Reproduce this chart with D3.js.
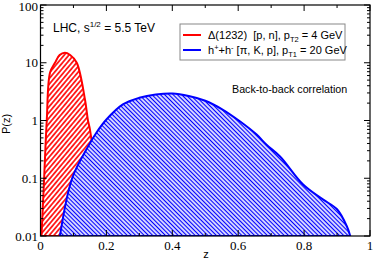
<!DOCTYPE html>
<html>
<head>
<meta charset="utf-8">
<script src="https://cdn.jsdelivr.net/npm/d3@7"></script>
<style>
  body { margin: 0; background: #fff; }
  svg { display: block; }
  .tick-label { font-family: "Liberation Serif", "Times New Roman", serif; font-size: 13px; }
  .sans { font-family: "Liberation Sans", Arial, sans-serif; }
</style>
</head>
<body>
<svg id="chart"></svg>
<script>
// values
var xTicks = [0, 0.2, 0.4, 0.6, 0.8, 1];
var xTickLabels = ["0", "0.2", "0.4", "0.6", "0.8", "1"];
var yTicks = [0.01, 0.1, 1, 10, 100];
var yTickLabels = ["0.01", "0.1", "1", "10", "100"];

// Delta(1232) [p, n], pT2 = 4 GeV
var deltaZ = [0.003, 0.011, 0.019, 0.029, 0.044, 0.058, 0.074, 0.09, 0.11, 0.135, 0.144, 0.15, 0.165, 0.18];
var deltaP = [0.01, 0.1, 1, 6.8, 10, 13.6, 14.9, 13.6, 10, 2.3, 1, 0.7, 0.14, 0.01];

// h+ + h- [pi, K, p], pT1 = 20 GeV
var hadZ = [0.059, 0.096, 0.145, 0.17, 0.2, 0.25, 0.3, 0.35, 0.4, 0.45, 0.5, 0.55, 0.605, 0.656, 0.686, 0.727, 0.797, 0.857, 0.9, 0.93, 0.94];
var hadP = [0.01, 0.1, 0.36, 0.62, 1.04, 1.9, 2.47, 2.82, 2.94, 2.66, 2.2, 1.58, 0.97, 0.57, 0.38, 0.238, 0.078, 0.043, 0.029, 0.0146, 0.01];

var width = 374,
    height = 259,
    pLeft = 40.5, pRight = 370, pTop = 5, pBottom = 236;

var svg = d3.select("#chart")
    .attr("width", width)
    .attr("height", height);

var x = d3.scaleLinear().domain([0, 1]).range([pLeft, pRight]);
var y = d3.scaleLog().domain([0.01, 100]).range([pBottom, pTop]);

var defs = svg.append("defs");

// hatch patterns
function hatch(id, color, angle, period, lw) {
  var p = defs.append("pattern")
      .attr("id", id)
      .attr("patternUnits", "userSpaceOnUse")
      .attr("width", period)
      .attr("height", period)
      .attr("patternTransform", "rotate(" + angle + ")");
  p.append("rect").attr("width", period).attr("height", period).attr("fill", "#fff");
  p.append("line")
      .attr("x1", period / 2).attr("y1", 0)
      .attr("x2", period / 2).attr("y2", period)
      .attr("stroke", color)
      .attr("stroke-width", lw);
}
hatch("redHatch", "#ff0000", 40, 3.6, 1.6);
hatch("blueHatch", "#0000ff", -45, 3.0, 1.35);

defs.append("clipPath").attr("id", "plotClip")
  .append("rect")
    .attr("x", pLeft).attr("y", pTop)
    .attr("width", pRight - pLeft).attr("height", pBottom - pTop);

var line = d3.line()
    .x(function(d) { return x(d[0]); })
    .y(function(d) { return y(d[1]); })
    .curve(d3.curveCatmullRom.alpha(0.5));

var plot = svg.append("g").attr("clip-path", "url(#plotClip)");

function drawCurve(zs, ps, fill, color) {
  var pts = zs.map(function(z, i) { return [z, ps[i]]; });
  plot.append("path")
      .attr("d", line(pts) + "Z")
      .attr("fill", "url(#" + fill + ")")
      .attr("stroke", color)
      .attr("stroke-width", 2)
      .attr("stroke-linejoin", "round");
}
drawCurve(deltaZ, deltaP, "redHatch", "#ff0000");
drawCurve(hadZ, hadP, "blueHatch", "#0000ff");

// frame
svg.append("rect")
    .attr("x", pLeft).attr("y", pTop)
    .attr("width", pRight - pLeft).attr("height", pBottom - pTop)
    .attr("fill", "none")
    .attr("stroke", "#000")
    .attr("stroke-width", 1.2);

// ticks (inward, all four sides)
var axes = svg.append("g").attr("stroke", "#000").attr("stroke-width", 1);
var xMinor = d3.range(0, 1.0001, 0.1);
xMinor.forEach(function(v) {
  var major = Math.abs(v * 5 - Math.round(v * 5)) < 1e-6;
  var len = major ? 6 : 3;
  axes.append("line").attr("x1", x(v)).attr("x2", x(v)).attr("y1", pBottom).attr("y2", pBottom - len);
  axes.append("line").attr("x1", x(v)).attr("x2", x(v)).attr("y1", pTop).attr("y2", pTop + len);
});
yTicks.forEach(function(dec, j) {
  axes.append("line").attr("x1", pLeft).attr("x2", pLeft + 6).attr("y1", y(dec)).attr("y2", y(dec));
  axes.append("line").attr("x1", pRight).attr("x2", pRight - 6).attr("y1", y(dec)).attr("y2", y(dec));
  if (j < yTicks.length - 1) {
    for (var m = 2; m <= 9; m++) {
      var v = dec * m;
      axes.append("line").attr("x1", pLeft).attr("x2", pLeft + 3).attr("y1", y(v)).attr("y2", y(v));
      axes.append("line").attr("x1", pRight).attr("x2", pRight - 3).attr("y1", y(v)).attr("y2", y(v));
    }
  }
});

// tick labels
svg.selectAll(".xl")
  .data(xTicks)
  .enter().append("text")
    .attr("class", "tick-label")
    .attr("x", function(d) { return x(d); })
    .attr("y", 250)
    .attr("text-anchor", "middle")
    .text(function(d, i) { return xTickLabels[i]; });

svg.selectAll(".yl")
  .data(yTicks)
  .enter().append("text")
    .attr("class", "tick-label")
    .attr("x", 38)
    .attr("y", function(d) { return Math.max(y(d) + 4.5, 10.5); })
    .attr("text-anchor", "end")
    .text(function(d, i) { return yTickLabels[i]; });

// axis titles
svg.append("text")
    .attr("class", "sans")
    .attr("font-size", 11)
    .attr("transform", "translate(10,124) rotate(-90)")
    .attr("text-anchor", "middle")
    .text("P(z)");

svg.append("text")
    .attr("class", "sans")
    .attr("font-size", 11)
    .attr("x", 206)
    .attr("y", 258)
    .attr("text-anchor", "middle")
    .text("z");

// annotation
var lhc = svg.append("text")
    .attr("class", "sans")
    .attr("font-size", 12)
    .attr("x", 53)
    .attr("y", 31.5);
lhc.append("tspan").text("LHC, s");
lhc.append("tspan").attr("font-size", 8).attr("dy", -5).text("1/2");
lhc.append("tspan").attr("dy", 5).text("\u00a0= 5.5 TeV");

svg.append("text")
    .attr("class", "sans")
    .attr("font-size", 10.7)
    .attr("x", 232)
    .attr("y", 93)
    .text("Back-to-back correlation");

// legend
var leg = svg.append("g");
leg.append("rect")
    .attr("x", 180).attr("y", 24)
    .attr("width", 165).attr("height", 36)
    .attr("fill", "#fff")
    .attr("stroke", "#888")
    .attr("stroke-width", 1);

leg.append("line").attr("x1", 183).attr("x2", 201).attr("y1", 35).attr("y2", 35)
    .attr("stroke", "#ff0000").attr("stroke-width", 2);
leg.append("line").attr("x1", 183).attr("x2", 201).attr("y1", 50).attr("y2", 50)
    .attr("stroke", "#0000ff").attr("stroke-width", 2);

var t1 = leg.append("text").attr("class", "sans").attr("font-size", 11).attr("x", 208).attr("y", 39);
t1.append("tspan").text("\u0394(1232)\u00a0\u00a0[p, n], p");
t1.append("tspan").attr("font-size", 7.5).attr("dy", 3).text("T2");
t1.append("tspan").attr("dy", -3).text("\u00a0= 4 GeV");

var t2 = leg.append("text").attr("class", "sans").attr("font-size", 11).attr("x", 208).attr("y", 54);
t2.append("tspan").text("h");
t2.append("tspan").attr("font-size", 7.5).attr("dy", -4).text("+");
t2.append("tspan").attr("dy", 4).text("+h");
t2.append("tspan").attr("font-size", 7.5).attr("dy", -4).text("-");
t2.append("tspan").attr("dy", 4).text("\u00a0[\u03c0, K, p], p");
t2.append("tspan").attr("font-size", 7.5).attr("dy", 3).text("T1");
t2.append("tspan").attr("dy", -3).text("\u00a0= 20 GeV");
</script>
</body>
</html>
